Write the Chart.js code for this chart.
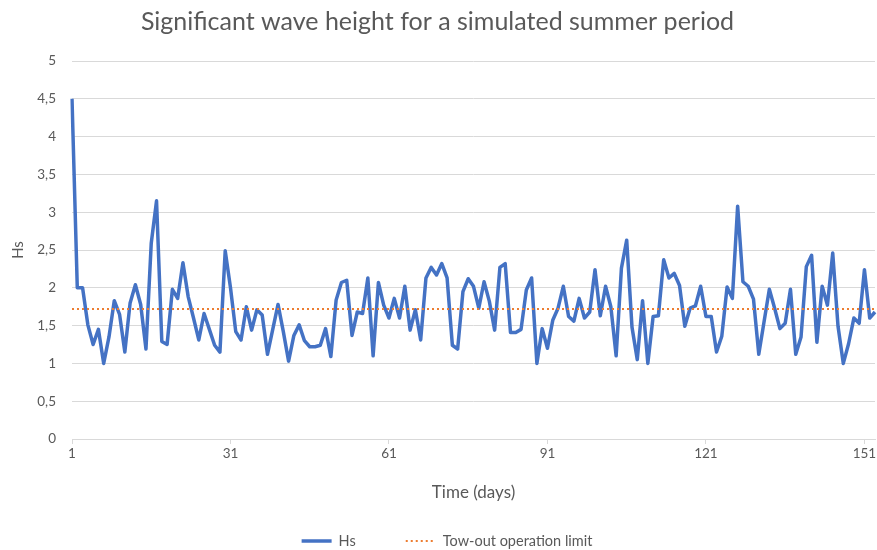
<!DOCTYPE html>
<html>
<head>
<meta charset="utf-8">
<title>Significant wave height</title>
<script src="https://cdn.jsdelivr.net/npm/chart.js@4"></script>
<style>
  html, body { margin: 0; padding: 0; background: #ffffff; }
  #wrap { width: 877px; height: 550px; }
</style>
</head>
<body>
<div id="wrap"><canvas id="waveChart" width="877" height="550"></canvas></div>
<script>
// ======================================================
// Data
// ======================================================

// days 1..153 of the simulated summer period
const days = Array.from({ length: 153 }, (_, i) => i + 1);

// significant wave height Hs per day
const hsValues = [
  4.5, 2.0, 2.0, 1.51, 1.25, 1.45, 1.0, 1.35, 1.83, 1.65,
  1.15, 1.8, 2.04, 1.78, 1.19, 2.59, 3.15, 1.29, 1.25, 1.98,
  1.86, 2.33, 1.88, 1.6, 1.31, 1.66, 1.45, 1.24, 1.15, 2.49,
  2.0, 1.42, 1.31, 1.75, 1.44, 1.71, 1.64, 1.12, 1.45, 1.78,
  1.42, 1.03, 1.37, 1.51, 1.3, 1.22, 1.22, 1.24, 1.46, 1.09,
  1.84, 2.07, 2.1, 1.37, 1.68, 1.66, 2.13, 1.1, 2.07, 1.77,
  1.6, 1.86, 1.6, 2.02, 1.44, 1.71, 1.31, 2.13, 2.27, 2.17,
  2.32, 2.13, 1.24, 1.19, 1.95, 2.12, 2.02, 1.73, 2.08, 1.82,
  1.44, 2.27, 2.32, 1.41, 1.41, 1.45, 1.97, 2.13, 1.0, 1.46,
  1.2, 1.57, 1.73, 2.02, 1.62, 1.56, 1.86, 1.6, 1.68, 2.24,
  1.63, 2.02, 1.75, 1.1, 2.26, 2.63, 1.48, 1.05, 1.83, 1.0,
  1.62, 1.63, 2.37, 2.13, 2.19, 2.03, 1.49, 1.73, 1.76, 2.02,
  1.62, 1.62, 1.15, 1.36, 2.01, 1.86, 3.08, 2.08, 2.02, 1.85,
  1.12, 1.55, 1.98, 1.73, 1.46, 1.53, 1.98, 1.12, 1.35, 2.28,
  2.43, 1.28, 2.02, 1.77, 2.46, 1.49, 1.0, 1.26, 1.6, 1.53,
  2.24, 1.6, 1.68
];

// tow-out operation limit (constant Hs threshold)
const towOutLimit = 1.72;
const limitValues = days.map(() => towOutLimit);

// labelled x ticks and y tick values
const xTickLabels = [1, 31, 61, 91, 121, 151];
const yTicks = [0, 0.5, 1, 1.5, 2, 2.5, 3, 3.5, 4, 4.5, 5];

// ======================================================
// Chart
// ======================================================

const FONT = 'Lato, "Open Sans", "DejaVu Sans", sans-serif';
const TEXT = '#595959';
const GRID = '#d9d9d9';

// bottom legend drawn like the Excel one (line sample + label)
const bottomLegend = {
  id: 'bottomLegend',
  afterDraw(chart) {
    const c = chart.ctx;
    const y = 541;
    const sample = 30, gap = 7, itemGap = 50;
    c.save();
    c.font = '14.5px ' + FONT;
    c.textBaseline = 'middle';
    const items = chart.data.datasets.map(ds => ({ ds, w: c.measureText(ds.label).width }));
    let total = 0;
    items.forEach((it, i) => { total += sample + gap + it.w + (i ? itemGap : 0); });
    let x = 447 - total / 2;
    items.forEach((it) => {
      c.beginPath();
      c.strokeStyle = it.ds.borderColor;
      c.lineWidth = it.ds.borderWidth;
      c.setLineDash(it.ds.borderDash || []);
      c.moveTo(x, y);
      c.lineTo(x + sample, y);
      c.stroke();
      c.setLineDash([]);
      c.fillStyle = TEXT;
      c.fillText(it.ds.label, x + sample + gap, y);
      x += sample + gap + it.w + itemGap;
    });
    c.restore();
  }
};

const ctx = document.getElementById('waveChart').getContext('2d');
const chart = new Chart(ctx, {
  type: 'line',
  data: {
    labels: days,
    datasets: [
      {
        label: 'Hs',
        data: hsValues,
        borderColor: '#4472C4',
        backgroundColor: '#4472C4',
        borderWidth: 3.5,
        borderJoinStyle: 'round',
        pointRadius: 0,
        tension: 0,
        order: 1
      },
      {
        label: 'Tow-out operation limit',
        data: limitValues,
        borderColor: '#ED7D31',
        backgroundColor: '#ED7D31',
        borderWidth: 2,
        borderDash: [2, 3],
        pointRadius: 0,
        tension: 0,
        order: 0
      }
    ]
  },
  options: {
    responsive: false,
    animation: false,
    layout: { padding: { left: 0, right: 2, top: 0, bottom: 30 } },
    plugins: {
      title: {
        display: true,
        text: 'Significant wave height for a simulated summer period',
        color: TEXT,
        font: { family: FONT, size: 25, weight: 'normal' },
        padding: { top: 7, bottom: 24 }
      },
      legend: { display: false },
      tooltip: { enabled: false }
    },
    scales: {
      x: {
        type: 'category',
        offset: false,
        border: { display: true, color: GRID, width: 1 },
        grid: {
          drawOnChartArea: false,
          drawTicks: true,
          tickLength: 5,
          color: (c) => (c.tick && xTickLabels.includes(days[c.index]) ? GRID : 'rgba(0,0,0,0)')
        },
        ticks: {
          autoSkip: false,
          maxRotation: 0,
          padding: 2,
          color: TEXT,
          font: { family: FONT, size: 13.5 },
          callback: function(value, index) {
            return xTickLabels.includes(days[index]) ? String(days[index]) : '';
          }
        },
        title: {
          display: true,
          text: 'Time (days)',
          color: TEXT,
          font: { family: FONT, size: 17 },
          padding: { top: 0, bottom: 17 }
        },
        afterFit: function(scale) { scale.height = 81; }
      },
      y: {
        min: 0,
        max: 5,
        border: { display: false },
        grid: { color: GRID, lineWidth: 1, drawTicks: false },
        afterBuildTicks: function(scale) {
          scale.ticks = yTicks.map(v => ({ value: v }));
        },
        ticks: {
          padding: 16,
          color: TEXT,
          font: { family: FONT, size: 13.5 },
          callback: (v) => String(v).replace('.', ',')
        },
        title: {
          display: true,
          text: 'Hs',
          color: TEXT,
          font: { family: FONT, size: 15 },
          padding: { top: 9, bottom: 0 }
        },
        afterFit: function(scale) { scale.width = 72; }
      }
    }
  },
  plugins: [bottomLegend]
});
</script>
</body>
</html>
